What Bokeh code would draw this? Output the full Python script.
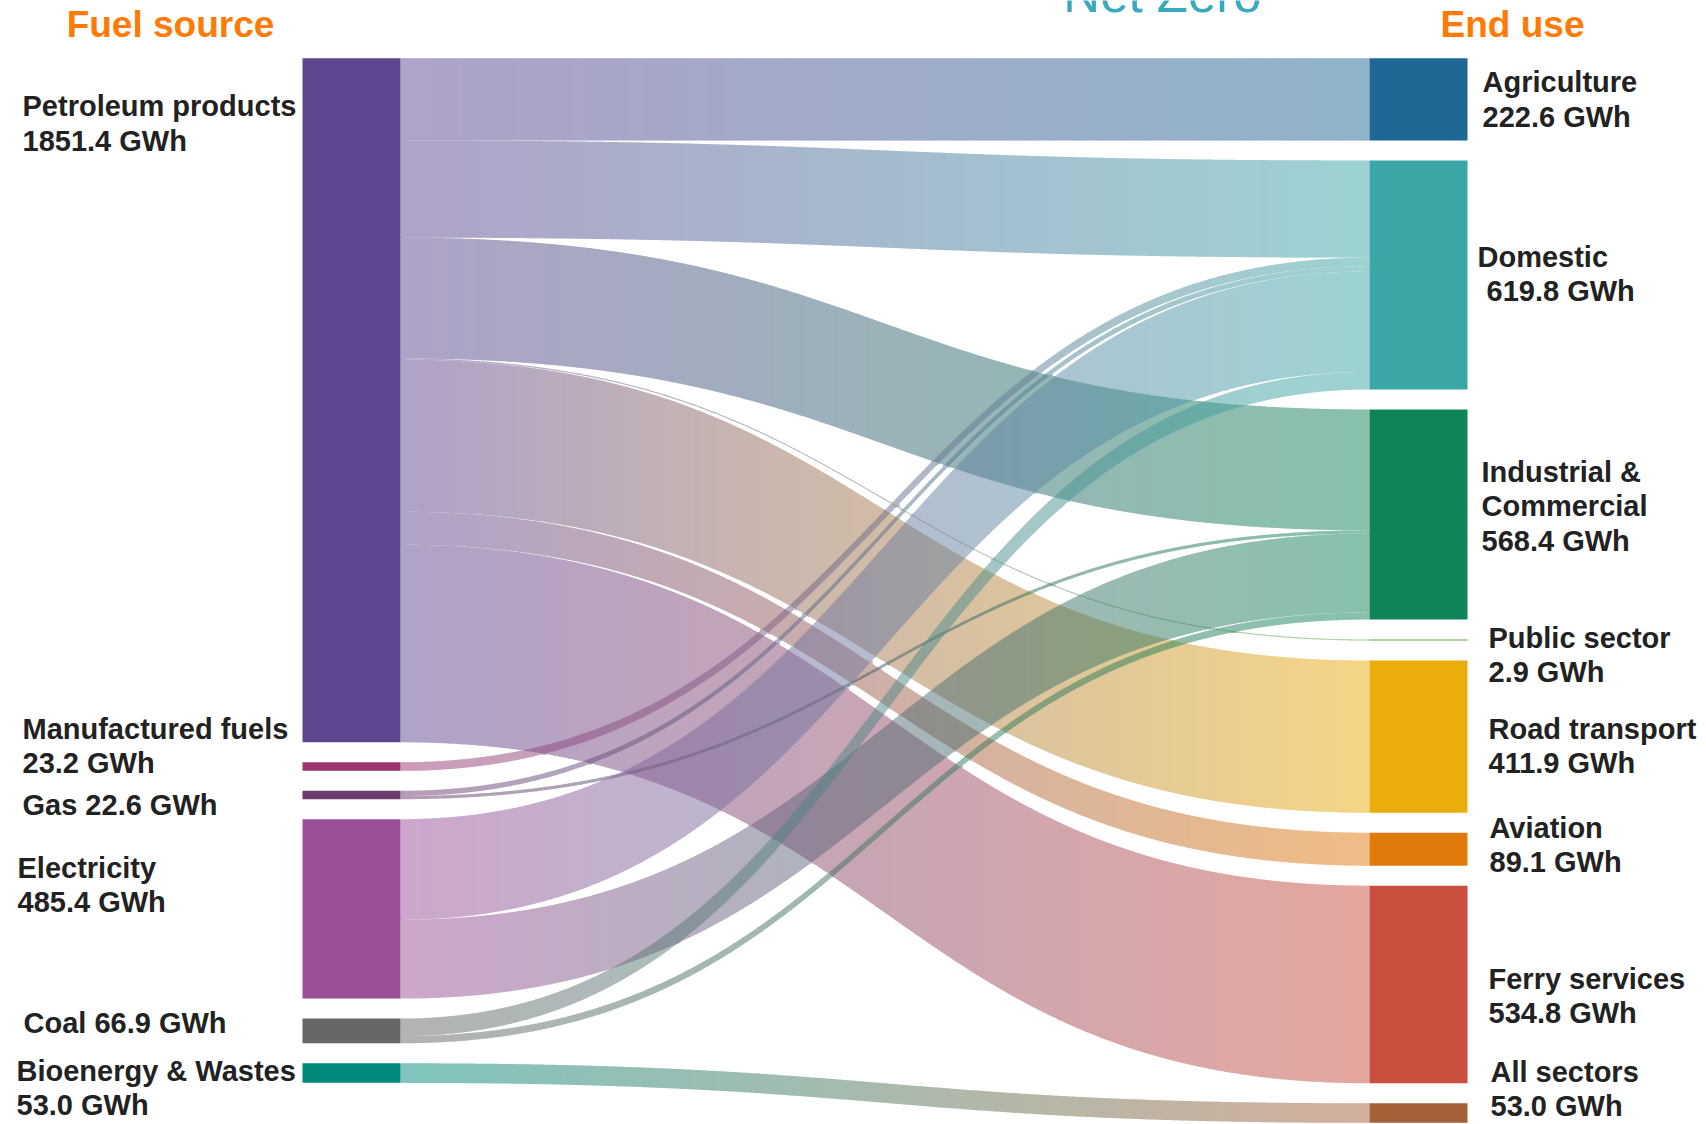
import numpy as np
from bokeh.plotting import figure
from bokeh.models import Range1d
from bokeh.embed import file_html
from bokeh.resources import INLINE
from bokeh.core.properties import value

# ---------------- data ----------------
sources = ["Petroleum products", "Manufactured fuels", "Gas", "Electricity", "Coal", "Bioenergy & Wastes"]
source_gwh = [1851.4, 23.2, 22.6, 485.4, 66.9, 53.0]
targets = ["Agriculture", "Domestic", "Industrial & Commercial", "Public sector",
           "Road transport", "Aviation", "Ferry services", "All sectors"]
target_gwh = [222.6, 619.8, 568.4, 2.9, 411.9, 89.1, 534.8, 53.0]

link_source = ["Petroleum products"] * 7 + ["Manufactured fuels", "Gas", "Gas",
               "Electricity", "Electricity", "Coal", "Coal", "Bioenergy & Wastes"]
link_target = ["Agriculture", "Domestic", "Industrial & Commercial", "Public sector",
               "Road transport", "Aviation", "Ferry services",
               "Domestic", "Domestic", "Industrial & Commercial",
               "Domestic", "Industrial & Commercial", "Domestic", "Industrial & Commercial",
               "All sectors"]
link_gwh = [222.6, 263.0, 327.1, 2.9, 411.9, 89.1, 534.8,
            23.2, 14.0, 8.6,
            272.0, 213.4, 47.6, 19.3,
            53.0]

source_colors = ["#5E4690", "#9B3470", "#6E3A6E", "#9A4F96", "#666666", "#00897B"]
target_colors = ["#1F6896", "#3AA6A6", "#0F8456", "#5CAA3C", "#EBAD0C", "#E07A0B", "#C9503F", "#A66039"]

# label templates ({v} = value)
source_label_lines = [["Petroleum products", "{v} GWh"], ["Manufactured fuels", "{v} GWh"],
                      ["Gas {v} GWh"], ["Electricity", "{v} GWh"], ["Coal {v} GWh"],
                      ["Bioenergy & Wastes", "{v} GWh"]]
target_label_lines = [["Agriculture", "{v} GWh"], ["Domestic", "{v} GWh"],
                      ["Industrial &", "Commercial", "{v} GWh"], ["Public sector", "{v} GWh"],
                      ["Road transport", "{v} GWh"], ["Aviation", "{v} GWh"],
                      ["Ferry services", "{v} GWh"], ["All sectors", "{v} GWh"]]

# ---------------- layout ----------------
W, H = 1706, 1124
K = 0.3695          # px per GWh
GAP = 20
TOP = 57.7
LX0, LX1 = 302, 400
RX0, RX1 = 1369, 1467
LINK_ALPHA = 0.5

def stack(vals):
    tops = []
    y = TOP
    for v in vals:
        tops.append(y)
        y += v * K + GAP
    return tops

s_top = stack(source_gwh)
t_top = stack(target_gwh)

p = figure(width=W, height=H, x_range=Range1d(0, W), y_range=Range1d(H, 0),
           min_border=0, toolbar_location=None, output_backend="svg",
           x_axis_type=None, y_axis_type=None)
p.grid.visible = False
p.outline_line_color = None
p.background_fill_color = "white"
p.border_fill_color = "white"

def hex2rgb(h):
    h = h.lstrip("#")
    return np.array([int(h[i:i + 2], 16) for i in (0, 2, 4)], dtype=float)

def rgb2hex(c):
    c = np.clip(np.round(c), 0, 255).astype(int)
    return "#%02x%02x%02x" % tuple(c)

# horizontal bezier (control points at mid-x): x-fraction -> y-fraction
tt = np.linspace(0, 1, 4001)
xf = 1.5 * tt * (1 - tt) + tt ** 3

def sfrac(x):
    u = (x - LX1) / (RX0 - LX1)
    t = np.interp(u, xf, tt)
    return 3 * t ** 2 - 2 * t ** 3

# link geometry from the values
s_off = {n: s_top[i] for i, n in enumerate(sources)}
t_off = {n: t_top[i] for i, n in enumerate(targets)}
L_y0, L_y1, L_h, L_c0, L_c1 = [], [], [], [], []
for sn, tn, v in zip(link_source, link_target, link_gwh):
    h = v * K
    L_y0.append(s_off[sn]); s_off[sn] += h
    L_y1.append(t_off[tn]); t_off[tn] += h
    L_h.append(h)
    L_c0.append(hex2rgb(source_colors[sources.index(sn)]))
    L_c1.append(hex2rgb(target_colors[targets.index(tn)]))
L_y0 = np.array(L_y0); L_y1 = np.array(L_y1); L_h = np.array(L_h)
NL = len(L_h)
WHITE = np.array([255.0, 255.0, 255.0])

# colour-composited column strips (gradient links, alpha-blended overlaps)
xs_all, ys_all, col_all = [], [], []
COLW = 3.0
xb = np.arange(LX1, RX0, COLW)
xb = np.append(xb, RX0)
for ci in range(len(xb) - 1):
    xa, xr = xb[ci], xb[ci + 1]
    last = ci == len(xb) - 2
    xe = xr if last else xr + 0.8
    xc = (xa + xr) / 2
    uc = (xc - LX1) / (RX0 - LX1)
    sa, sc, se = sfrac(xa), sfrac(xc), sfrac(xe)
    top_a = L_y0 + (L_y1 - L_y0) * sa
    top_c = L_y0 + (L_y1 - L_y0) * sc
    top_e = L_y0 + (L_y1 - L_y0) * se
    bnds = []
    for li in range(NL):
        bnds.append((top_c[li], top_a[li], top_e[li]))
        bnds.append((top_c[li] + L_h[li], top_a[li] + L_h[li], top_e[li] + L_h[li]))
    bnds.sort(key=lambda b: b[0])
    for k in range(len(bnds) - 1):
        lo, hi = bnds[k], bnds[k + 1]
        if hi[0] - lo[0] < 1e-6:
            continue
        ym = (lo[0] + hi[0]) / 2
        cover = [li for li in range(NL) if top_c[li] <= ym <= top_c[li] + L_h[li]]
        if not cover:
            continue
        col = WHITE.copy()
        for li in cover:
            lc = L_c0[li] + (L_c1[li] - L_c0[li]) * uc
            col = LINK_ALPHA * lc + (1 - LINK_ALPHA) * col
        yb = hi[0] + 1e-3
        below = any(top_c[li] < yb < top_c[li] + L_h[li] for li in range(NL))
        ext = 0.7 if below else 0.0
        xs_all.append([xa, xe, xe, xa])
        ys_all.append([lo[1], lo[2], hi[2] + ext, hi[1] + ext])
        col_all.append(rgb2hex(col))

p.patches(xs=xs_all, ys=ys_all, fill_color=col_all, line_color=None)

# nodes
p.quad(left=[LX0] * len(sources), right=[LX1] * len(sources),
       top=s_top, bottom=[t + v * K for t, v in zip(s_top, source_gwh)],
       fill_color=source_colors, line_color=None)
p.quad(left=[RX0] * len(targets), right=[RX1] * len(targets),
       top=t_top, bottom=[t + v * K for t, v in zip(t_top, target_gwh)],
       fill_color=target_colors, line_color=None)

# label placement (x, first line y centre, x indent of following lines)
src_label_pos = [(22, 105.5, 0), (22, 728, 0), (22, 804, 0), (17, 867, 0), (23, 1022, 0), (16, 1070, 0)]
tgt_label_pos = [(1482, 81.5, 0), (1477, 256, 9), (1481, 471, 0), (1488, 637, 0), (1488, 728, 0),
                 (1489, 827, 0), (1488, 978, 0), (1490, 1071, 0)]
LINE_H = 34.5

lx, ly, lt = [], [], []
for lines, val, (x, y, ind) in zip(source_label_lines + target_label_lines,
                                   source_gwh + target_gwh, src_label_pos + tgt_label_pos):
    for k, line in enumerate(lines):
        lx.append(x + (ind if k > 0 else 0))
        ly.append(y + k * LINE_H)
        lt.append(line.format(v=f"{val:.1f}"))

p.text(x=lx, y=ly, text=lt, text_font=value("Liberation Sans"), text_font_size="29px",
       text_font_style="bold", text_color="#222222", text_baseline="middle", text_align="left")

# headings
p.text(x=[170, 1512], y=[24, 24], text=["Fuel source", "End use"],
       text_font=value("Liberation Sans"), text_font_size="37px", text_font_style="bold",
       text_color="#FF7B05", text_baseline="middle", text_align="center")
p.text(x=[1162], y=[-6], text=["Net Zero"], text_font=value("Liberation Sans"),
       text_font_size="51px", text_color="#3BA9BD", text_baseline="alphabetic",
       text_align="center")

open("out.html", "w").write(file_html(p, INLINE))
